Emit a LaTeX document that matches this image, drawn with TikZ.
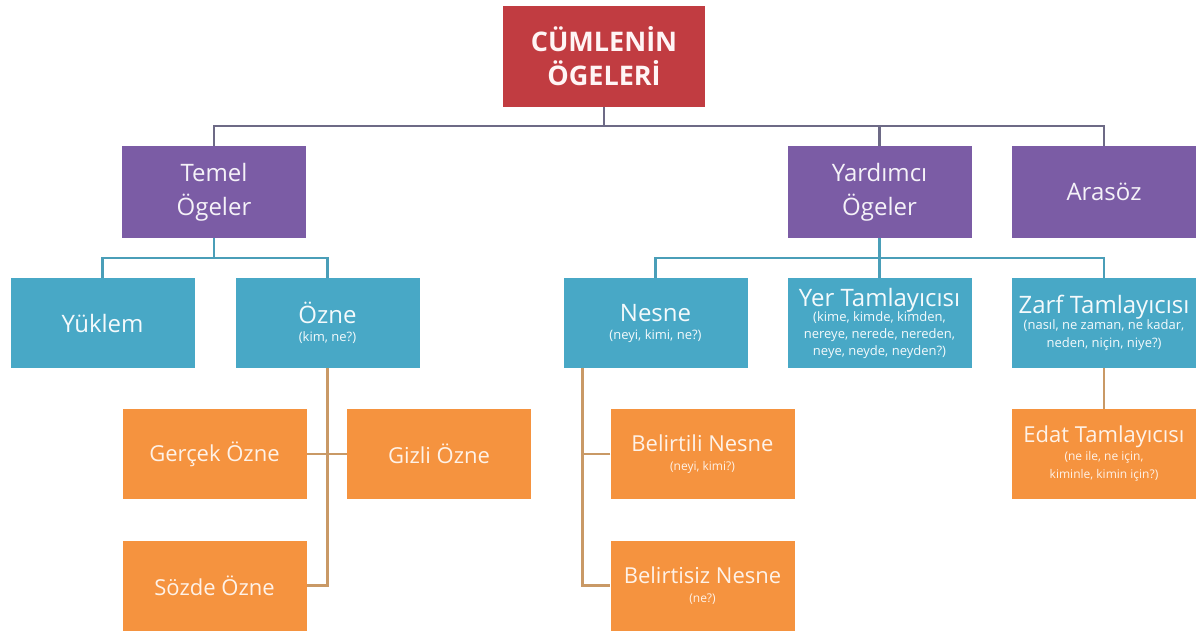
\documentclass[tikz,border=0pt]{standalone}
\usepackage{fontspec}
\setmainfont{Open Sans}
\definecolor{cred}{HTML}{C13C41}
\definecolor{cpurple}{HTML}{7B5CA5}
\definecolor{cteal}{HTML}{48A8C6}
\definecolor{corange}{HTML}{F5933F}
\definecolor{ltop}{HTML}{6D6A86}
\definecolor{lteal}{HTML}{4A9EB8}
\definecolor{lorange}{HTML}{C99966}
\newcommand{\ttl}[1]{{\fontsize{24}{30}\selectfont #1}}
\newcommand{\otl}[1]{{\fontsize{22}{28}\selectfont #1}}
\tikzset{
  box/.style={rectangle, inner sep=0pt, align=center, minimum width=184pt, minimum height=90pt, text=white},
  rootbox/.style={box, fill=cred, minimum width=202pt, minimum height=101pt, font=\fontsize{27}{34}\selectfont\bfseries, text=white!96!red},
  purplebox/.style={box, fill=cpurple, minimum height=92pt, font=\fontsize{24}{34}\selectfont, text=white!92!cpurple},
  tealbox/.style={box, fill=cteal, font=\fontsize{13}{17}\selectfont, text=white!94!cteal},
  orangebox/.style={box, fill=corange, font=\fontsize{12}{18}\selectfont, text=white!88!corange},
  topline/.style={draw=ltop, line width=2.5pt},
  tealline/.style={draw=lteal, line width=2.5pt},
  orangeline/.style={draw=lorange, line width=2.5pt}
}
\begin{document}
\begin{tikzpicture}[x=1pt, y=-1pt]
\useasboundingbox[fill=white] (0,0) rectangle (1197,634);
\coordinate (b1) at (604,126);
\coordinate (b2) at (214,258);
\coordinate (b3) at (879.5,258);
% nodes
\node[rootbox] (root) at (604,56.5) {CÜMLENİN\\ÖGELERİ};
\node[purplebox] (temel) at (214,192) {Temel\\Ögeler};
\node[purplebox] (yard) at (879.5,192) {Yardımcı\\Ögeler};
\node[purplebox] (aras) at (1104,192) {Arasöz};
\node[tealbox] (yuklem) at (102.5,323) {\ttl{Yüklem}};
\node[tealbox] (ozne) at (327.5,323) {\ttl{Özne}\\[1pt](kim, ne?)};
\node[tealbox] (nesne) at (655.5,323) {\ttl{Nesne}\\[1pt](neyi, kimi, ne?)};
\node[tealbox] (yer) at (879.5,323) {\ttl{Yer Tamlayıcısı}\\[-2pt](kime, kimde, kimden,\\nereye, nerede, nereden,\\neye, neyde, neyden?)};
\node[tealbox] (zarf) at (1104,323) {\ttl{Zarf Tamlayıcısı}\\[-1pt](nasıl, ne zaman, ne kadar,\\[1pt]neden, niçin, niye?)};
\node[orangebox] (gercek) at (214.5,454) {\otl{Gerçek Özne}};
\node[orangebox] (gizli) at (439,454) {\otl{Gizli Özne}};
\node[orangebox] (sozde) at (214.5,585.5) {\otl{Sözde Özne}};
\node[orangebox] (belirtili) at (702.5,454) {\otl{Belirtili Nesne}\\[1pt](neyi, kimi?)};
\node[orangebox] (belirtisiz) at (702.5,585.5) {\otl{Belirtisiz Nesne}\\[1pt](ne?)};
\node[orangebox] (edat) at (1104,454) {\otl{Edat Tamlayıcısı}\\[0pt](ne ile, ne için,\\kiminle, kimin için?)};
% top level connectors
\draw[topline] (root.south) -- (b1);
\draw[topline] (temel.north) -- (temel.north |- b1) -- (aras.north |- b1) -- (aras.north);
\draw[topline] (yard.north) -- (yard.north |- b1);
% teal connectors
\draw[tealline] (temel.south) -- (b2);
\draw[tealline] (yuklem.north) -- (yuklem.north |- b2) -- (ozne.north |- b2) -- (ozne.north);
\draw[tealline] (yard.south) -- (b3);
\draw[tealline] (nesne.north) -- (nesne.north |- b3) -- (zarf.north |- b3) -- (zarf.north);
\draw[tealline] (yer.north) -- (yer.north |- b3);
% orange connectors
\draw[orangeline] (ozne.south) -- (ozne.south |- sozde.east) -- (sozde.east);
\draw[orangeline] (gercek.east) -- (gizli.west);
\coordinate (nl) at ([xshift=19pt]nesne.south west);
\draw[orangeline] (nl) |- (belirtisiz.west);
\draw[orangeline] (belirtili.west) -- (belirtili.west -| nl);
\draw[orangeline] (zarf.south) -- (edat.north);
\end{tikzpicture}
\end{document}
